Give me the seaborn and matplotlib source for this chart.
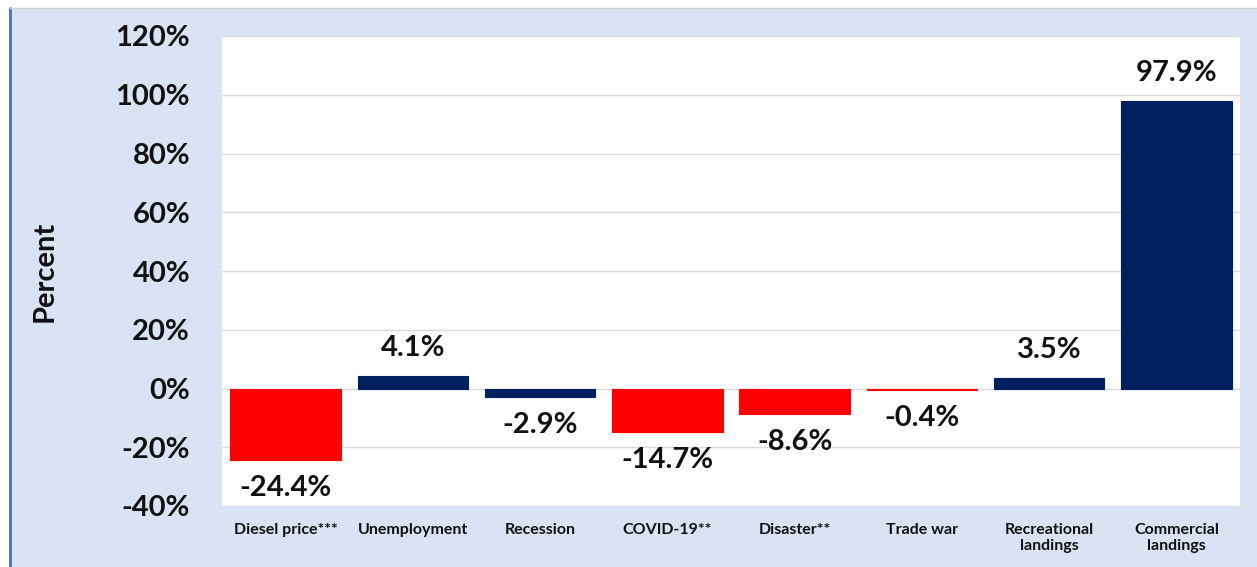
import matplotlib
matplotlib.use("Agg")
import matplotlib.pyplot as plt
import seaborn as sns
import pandas as pd
from matplotlib.patches import Rectangle
from matplotlib.lines import Line2D

categories = ["Diesel price***", "Unemployment", "Recession", "COVID-19**",
              "Disaster**", "Trade war", "Recreational\nlandings", "Commercial\nlandings"]
values = [-24.4, 4.1, -2.9, -14.7, -8.6, -0.4, 3.5, 97.9]
bar_colors = ["#FF0000", "#002060", "#002060", "#FF0000",
              "#FF0000", "#FF0000", "#002060", "#002060"]
yticks = [-40, -20, 0, 20, 40, 60, 80, 100, 120]

sns.set_theme(style="white")
plt.rcParams['font.family'] = ['Lato', 'DejaVu Sans']

bg = "#DAE3F3"
fig = plt.figure(figsize=(12.57, 5.67), dpi=100, facecolor="white")
fig.patches.append(Rectangle((10/1257, 0), 1 - 10/1257, 1 - 8/567,
                             transform=fig.transFigure, facecolor=bg,
                             edgecolor="none", zorder=-10))
fig.lines.append(Line2D([10/1257, 10/1257], [0, 1 - 8/567], transform=fig.transFigure,
                        color="#4472C4", lw=2))
fig.lines.append(Line2D([10/1257, 1], [1 - 8/567, 1 - 8/567], transform=fig.transFigure,
                        color="#D0D0D0", lw=1))

ax = fig.add_axes([222/1257, 1 - 506/567, (1240 - 222)/1257, (506 - 36)/567])
ax.set_facecolor("white")

df = pd.DataFrame({"cat": categories, "val": values})
sns.barplot(data=df, x="cat", y="val", hue="cat", palette=bar_colors,
            width=0.87, legend=False, ax=ax, saturation=1)
for p, c in zip(ax.patches, bar_colors):
    p.set_edgecolor(c)
    p.set_linewidth(0.8)
    p.set_zorder(3)

for cont in ax.containers:
    ax.bar_label(cont, fmt="%.1f%%", padding=11, fontsize=21, fontweight="bold",
                 color="#111111")

ax.set_ylim(-40, 120)
ax.set_yticks(yticks)
ax.set_yticklabels([f"{t}%" for t in yticks], fontsize=21, fontweight="bold", color="#111111")
ax.yaxis.grid(True, color="#D9D9D9", lw=1)
ax.set_axisbelow(True)
ax.tick_params(axis="y", length=0, pad=23)
ax.tick_params(axis="x", length=0, pad=12)
for lbl in ax.get_xticklabels():
    lbl.set_fontsize(11.5)
    lbl.set_fontweight("bold")
    lbl.set_color("#111111")
ax.set_xlabel("")
ax.set_ylabel("Percent", fontsize=21, fontweight="bold", color="#111111")
ax.yaxis.set_label_coords((58 - 222) / (1240 - 222), 0.5)
for s in ax.spines.values():
    s.set_visible(False)

fig.savefig("out.png", dpi=100, facecolor=fig.get_facecolor())
